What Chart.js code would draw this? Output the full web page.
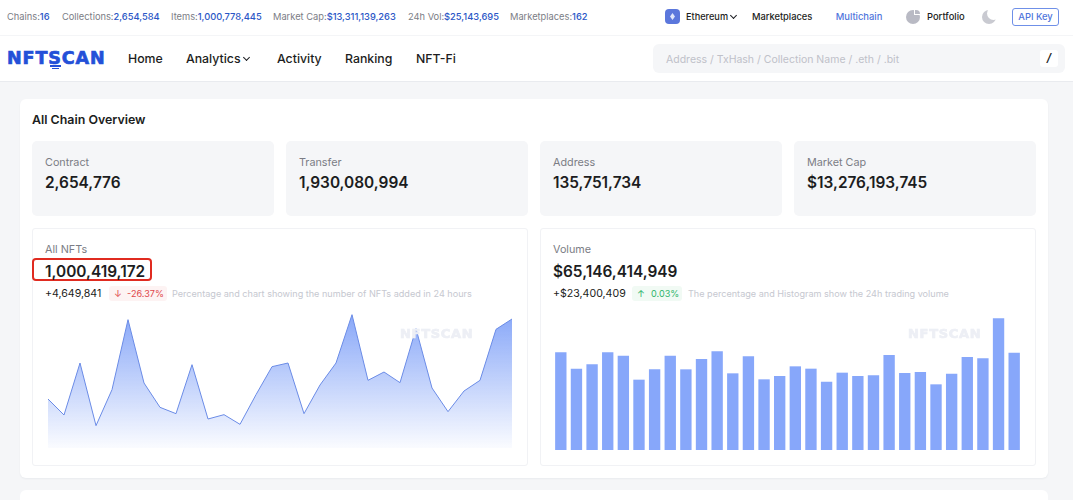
<!DOCTYPE html>
<html><head><meta charset="utf-8">
<script src="https://cdn.jsdelivr.net/npm/chart.js@4/dist/chart.umd.min.js"></script>
<style>
html,body{margin:0;padding:0;width:1073px;height:500px;overflow:hidden;background:#f5f6f8;font-family:Inter,"Noto Sans",sans-serif;color:#1c1d21}
.t{position:absolute;white-space:nowrap;line-height:1}
.box{position:absolute;box-sizing:border-box}
.g{color:#7b7d85}.b{color:#2a56c6;font-weight:500}
.chev{position:absolute;width:4px;height:4px;border-right:1.2px solid #1c1d21;border-bottom:1.2px solid #1c1d21;transform:rotate(45deg)}
.logo{font-family:'DejaVu Sans';font-weight:900;-webkit-text-stroke:0.7px currentColor}
canvas{display:block}
</style></head><body>
<div class="box" style="left:0;top:0;width:1073px;height:82px;background:#fff;border-bottom:1px solid #e9ebef"></div>
<div class="box" style="left:0;top:35px;width:1073px;height:1px;background:#f4f5f7"></div>
<div class="t g" style="left:7px;top:12px;font-size:9.3px">Chains:<span class="b">16</span></div>
<div class="t g" style="left:62px;top:12px;font-size:9.3px">Collections:<span class="b">2,654,584</span></div>
<div class="t g" style="left:171px;top:12px;font-size:9.3px">Items:<span class="b">1,000,778,445</span></div>
<div class="t g" style="left:273px;top:12px;font-size:9.3px">Market Cap:<span class="b">$13,311,139,263</span></div>
<div class="t g" style="left:408px;top:12px;font-size:9.3px">24h Vol:<span class="b">$25,143,695</span></div>
<div class="t g" style="left:510px;top:12px;font-size:9.3px">Marketplaces:<span class="b">162</span></div>
<div class="box" style="left:665px;top:9px;width:15px;height:15px;border-radius:4px;background:#5b77dc"></div>
<div class="box" style="left:670px;top:13px;width:5px;height:7px;background:#dfe6fb;clip-path:polygon(50% 0,100% 50%,50% 100%,0 50%)"></div>
<div class="t" style="left:686px;top:12px;font-size:9.2px;font-weight:500">Ethereum</div>
<div class="chev" style="left:731px;top:13px"></div>
<div class="t" style="left:752px;top:12px;font-size:9.3px;font-weight:500">Marketplaces</div>
<div class="t" style="left:824px;top:12px;width:70px;text-align:center;font-size:9.4px;font-weight:500;color:#4f75dc">Multichain</div>
<div class="box" style="left:906px;top:10px;width:14px;height:14px;border-radius:50%;background:#b9bac4"></div>
<div class="box" style="left:914px;top:8px;width:7px;height:7px;background:#fff"></div>
<div class="box" style="left:915px;top:10px;width:5px;height:4px;border-radius:0 5px 0 0;background:#b9bac4"></div>
<div class="t" style="left:927px;top:12px;font-size:9.4px;font-weight:500">Portfolio</div>
<div class="box" style="left:982px;top:10px;width:14px;height:14px;border-radius:50%;background:#c9cad1"></div>
<div class="box" style="left:987px;top:7px;width:13px;height:13px;border-radius:50%;background:#fff"></div>
<div class="box" style="left:1012px;top:8px;width:47px;height:18px;border:1px solid #6f90e8;border-radius:3px"></div>
<div class="t" style="left:1012px;top:12px;width:47px;text-align:center;font-size:9.4px;font-weight:500;color:#4f75dc">API Key</div>
<div class="t logo" style="left:7px;top:50px;font-size:17.5px;color:#2350d8;letter-spacing:0.9px">NFTSCAN</div>
<div class="box" style="left:50px;top:65px;width:11px;height:1.5px;background:#2350d8"></div>
<div class="box" style="left:52px;top:67.5px;width:7px;height:1.2px;background:#2350d8"></div>
<div class="t" style="left:128px;top:53px;font-size:12.3px;font-weight:500">Home</div>
<div class="t" style="left:186px;top:53px;font-size:12.3px;font-weight:500">Analytics</div>
<div class="chev" style="left:244px;top:55px"></div>
<div class="t" style="left:277px;top:53px;font-size:12.3px;font-weight:500">Activity</div>
<div class="t" style="left:345px;top:53px;font-size:12.3px;font-weight:500">Ranking</div>
<div class="t" style="left:416px;top:53px;font-size:12.3px;font-weight:500">NFT-Fi</div>
<div class="box" style="left:653px;top:44px;width:412px;height:29px;border-radius:6px;background:#f5f6f8"></div>
<div class="t" style="left:666px;top:55px;font-size:10.5px;color:#bfc1c9">Address / TxHash / Collection Name / .eth / .bit</div>
<div class="box" style="left:1040px;top:50px;width:18px;height:17px;border-radius:3px;background:#fff"></div>
<div class="t" style="left:1040px;top:53px;width:18px;text-align:center;font-size:11.5px;font-weight:600;font-style:italic">/</div>

<div class="box" style="left:20px;top:99px;width:1028px;height:379px;border-radius:6px;background:#fff;box-shadow:0 1px 2px rgba(20,30,60,.05)"></div>
<div class="box" style="left:20px;top:490px;width:1028px;height:30px;border-radius:6px;background:#fff"></div>
<div class="t" style="left:32px;top:114px;font-size:12.4px;font-weight:600">All Chain Overview</div>
<div class="box" style="left:32px;top:141px;width:242px;height:75px;border-radius:5px;background:#f5f6f8"></div>
<div class="box" style="left:286px;top:141px;width:242px;height:75px;border-radius:5px;background:#f5f6f8"></div>
<div class="box" style="left:540px;top:141px;width:242px;height:75px;border-radius:5px;background:#f5f6f8"></div>
<div class="box" style="left:794px;top:141px;width:242px;height:75px;border-radius:5px;background:#f5f6f8"></div>
<div class="t g" style="left:45px;top:158px;font-size:10.8px">Contract</div>
<div class="t g" style="left:299px;top:158px;font-size:10.8px">Transfer</div>
<div class="t g" style="left:553px;top:158px;font-size:10.8px">Address</div>
<div class="t g" style="left:807px;top:158px;font-size:10.8px">Market Cap</div>
<div class="t" style="left:45px;top:175px;font-size:15.4px;font-weight:600">2,654,776</div>
<div class="t" style="left:299px;top:175px;font-size:15.4px;font-weight:600">1,930,080,994</div>
<div class="t" style="left:553px;top:175px;font-size:15.4px;font-weight:600">135,751,734</div>
<div class="t" style="left:807px;top:175px;font-size:15.4px;font-weight:600">$13,276,193,745</div>

<div class="box" style="left:32px;top:228px;width:496px;height:238px;border:1px solid #f1f2f5;border-radius:3px"></div>
<div class="box" style="left:540px;top:228px;width:496px;height:238px;border:1px solid #f1f2f5;border-radius:3px"></div>
<div class="t g" style="left:45px;top:245px;font-size:10.8px">All NFTs</div>
<div class="t g" style="left:553px;top:245px;font-size:10.8px">Volume</div>
<div class="box" style="left:32px;top:258px;width:120px;height:23px;border:2px solid #e02b20;border-radius:4px"></div>
<div class="t" style="left:45px;top:264px;font-size:15.4px;font-weight:600">1,000,419,172</div>
<div class="t" style="left:553px;top:264px;font-size:15.4px;font-weight:600">$65,146,414,949</div>
<div class="t" style="left:45px;top:289px;font-size:10.6px">+4,649,841</div>
<div class="t" style="left:553px;top:289px;font-size:10.6px">+$23,400,409</div>
<div class="box" style="left:109px;top:286px;width:58px;height:15px;border-radius:3px;background:#fdf3f3"></div>
<div class="box" style="left:632px;top:286px;width:50px;height:15px;border-radius:3px;background:#f1faf4"></div>
<div class="t" style="left:114px;top:289px;font-size:9.5px;color:#e0484c">↓</div>
<div class="t" style="left:127px;top:289px;font-size:9.1px;color:#e0484c">-26.37%</div>
<div class="t" style="left:637px;top:289px;font-size:9.5px;color:#2fb56c">↑</div>
<div class="t" style="left:651px;top:289px;font-size:9.1px;color:#2fb56c">0.03%</div>
<div class="t" style="left:172px;top:289px;font-size:9.1px;color:#c6c8d0">Percentage and chart showing the number of NFTs added in 24 hours</div>
<div class="t" style="left:688px;top:289px;font-size:9.1px;color:#c6c8d0">The percentage and Histogram show the 24h trading volume</div>

<div class="box" style="left:48px;top:310px;width:464px;height:138px"><canvas id="lineC"></canvas></div>
<div class="box" style="left:553px;top:311px;width:469px;height:139px"><canvas id="barC"></canvas></div>
<div class="t logo" style="left:400px;top:327px;font-size:13px;color:#edeff5;letter-spacing:0.7px">NFTSCAN</div>
<div class="t logo" style="left:908px;top:327px;font-size:13px;color:#edeff5;letter-spacing:0.7px">NFTSCAN</div>

<script>
const days = ['1','2','3','4','5','6','7','8','9','10','11','12','13','14','15','16','17','18','19','20','21','22','23','24','25','26','27','28','29','30'];
const nftValues = [147,99,255,67,175,385,195,122,103,250,87,100,71,160,244,255,103,189,255,400,203,228,196,358,180,109,171,203,356,387];
const volumeValues = [292,243,256,292,282,210,241,282,241,272,295,229,280,211,221,250,243,204,231,221,223,284,230,233,196,228,278,274,394,291];

Chart.defaults.animation = false;
function base(yMax){
  return {responsive:true,maintainAspectRatio:false,animation:false,
    layout:{padding:0},
    plugins:{legend:{display:false},tooltip:{enabled:false}},
    scales:{
      x:{display:false},
      y:{display:false,min:0,max:yMax}
    }};
}
new Chart(document.getElementById('lineC'),{
  type:'line',
  data:{labels:days,datasets:[{data:nftValues,borderColor:'#6a8be6',borderWidth:1,pointRadius:0,tension:0,fill:true,
    backgroundColor(ctx){
      const a=ctx.chart.chartArea; if(!a) return '#9db6f7';
      const g=ctx.chart.ctx.createLinearGradient(0,a.top,0,a.bottom);
      g.addColorStop(0,'#85a5f8');g.addColorStop(1,'rgba(133,165,248,0.04)');
      return g;
    }}]},
  options:base(414)
});
new Chart(document.getElementById('barC'),{
  type:'bar',
  data:{labels:days,datasets:[{data:volumeValues,backgroundColor:'#87a7fa',barThickness:10.7,borderWidth:0}]},
  options:base(417)
});
</script>
</body></html>
